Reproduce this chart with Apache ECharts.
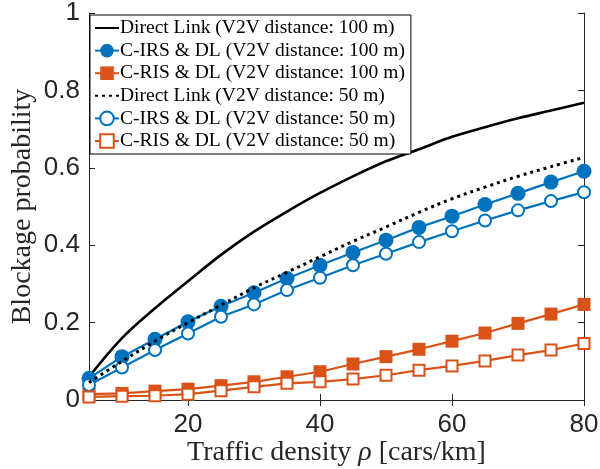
<!DOCTYPE html>
<html>
<head>
<meta charset="utf-8">
<script src="https://cdn.jsdelivr.net/npm/echarts@6/dist/echarts.min.js"></script>
<style>
  html, body { margin: 0; padding: 0; background: #fff; }
  #main { width: 600px; height: 469px; }
</style>
</head>
<body>
<div id="main"></div>
<script>
// traffic density (cars/km)
const densities = [5, 10, 15, 20, 25, 30, 35, 40, 45, 50, 55, 60, 65, 70, 75, 80];
const xTicks = [20, 40, 60, 80];

// blockage probability, V2V distance 100 m
const directLink100 = [0.06, 0.16, 0.237, 0.307, 0.375, 0.435, 0.487, 0.535, 0.578, 0.617, 0.648, 0.68, 0.705, 0.728, 0.748, 0.768];
const cirs100 = [0.056, 0.112, 0.157, 0.202, 0.242, 0.277, 0.314, 0.348, 0.381, 0.413, 0.446, 0.475, 0.505, 0.534, 0.563, 0.591];
const cris100 = [0.015, 0.017, 0.023, 0.028, 0.037, 0.047, 0.06, 0.073, 0.093, 0.112, 0.131, 0.152, 0.173, 0.198, 0.222, 0.247];

// blockage probability, V2V distance 50 m
const directLink50 = [0.045, 0.1, 0.152, 0.2, 0.245, 0.29, 0.33, 0.37, 0.41, 0.447, 0.485, 0.52, 0.55, 0.578, 0.603, 0.627];
const cirs50 = [0.039, 0.084, 0.129, 0.172, 0.215, 0.247, 0.284, 0.316, 0.348, 0.378, 0.408, 0.436, 0.464, 0.49, 0.514, 0.537];
const cris50 = [0.008, 0.01, 0.011, 0.015, 0.024, 0.034, 0.043, 0.047, 0.054, 0.064, 0.077, 0.088, 0.101, 0.116, 0.129, 0.146];

const BLUE = '#0072BD';
const ORANGE = '#D95319';
const AXIS_COLOR = '#262626';
const SERIF = '"Liberation Serif", "DejaVu Serif", serif';
const SANS = '"Liberation Sans", Arial, sans-serif';

const pairs = ys => densities.map((x, i) => [x, ys[i]]);

const chart = echarts.init(document.getElementById('main'), null, { renderer: 'canvas' });

const axisLine = { show: true, lineStyle: { color: AXIS_COLOR, width: 1 } };
const tick = { show: true, inside: true, length: 6, lineStyle: { color: AXIS_COLOR } };

// legend entries; the two direct-link rows show only their line
const legendNames = [
  'Direct Link (V2V distance: 100 m)',
  'C-IRS & DL (V2V distance: 100 m)',
  'C-RIS & DL (V2V distance: 100 m)',
  'Direct Link (V2V distance: 50 m)',
  'C-IRS & DL (V2V distance: 50 m)',
  'C-RIS & DL (V2V distance: 50 m)'
];

const option = {
  animation: false,
  backgroundColor: '#fff',
  grid: { left: 89, right: 16, top: 13, bottom: 69, containLabel: false, outerBoundsMode: 'none' },
  legend: {
    orient: 'vertical',
    left: 90,
    top: 15,
    backgroundColor: '#fff',
    borderColor: '#000',
    borderWidth: 1,
    borderRadius: 0,
    padding: [3, 6, 3, 4],
    itemWidth: 24,
    itemHeight: 17,
    itemGap: 2.6,
    textStyle: { fontFamily: SERIF, fontSize: 19.5, color: '#000', lineHeight: 20, padding: [0, 0, 0, -4] },
    data: legendNames.map(n => n.startsWith('Direct')
      ? { name: n, itemStyle: { opacity: 0 } }
      : { name: n })
  },
  xAxis: [
    {
      type: 'value', min: 5, max: 80, position: 'bottom',
      axisLine: axisLine,
      axisTick: Object.assign({}, tick, { customValues: xTicks }),
      axisLabel: { customValues: xTicks, fontFamily: SANS, fontSize: 26, color: AXIS_COLOR, margin: 12 },
      splitLine: { show: false },
      name: '{a|Traffic density }{i|ρ}{a| [cars/km]}',
      nameLocation: 'middle',
      nameGap: 39,
      nameMoveOverlap: false,
      nameTextStyle: {
        rich: {
          a: { fontFamily: SERIF, fontSize: 28, color: AXIS_COLOR },
          i: { fontFamily: SERIF, fontSize: 28, fontStyle: 'italic', color: AXIS_COLOR }
        }
      }
    },
    {
      type: 'value', min: 5, max: 80, position: 'top',
      axisLine: axisLine,
      axisTick: Object.assign({}, tick, { customValues: xTicks }),
      axisLabel: { show: false },
      splitLine: { show: false }
    }
  ],
  yAxis: [
    {
      type: 'value', min: 0, max: 1, interval: 0.2, position: 'left',
      axisLine: axisLine,
      axisTick: tick,
      axisLabel: {
        fontFamily: SANS, fontSize: 26, color: AXIS_COLOR, margin: 9,
        formatter: v => (Math.round(v * 10) / 10).toString()
      },
      splitLine: { show: false },
      name: 'Blockage probability',
      nameLocation: 'middle',
      nameGap: 52,
      nameMoveOverlap: false,
      nameTextStyle: { fontFamily: SERIF, fontSize: 28, color: AXIS_COLOR }
    },
    {
      type: 'value', min: 0, max: 1, interval: 0.2, position: 'right',
      axisLine: axisLine,
      axisTick: tick,
      axisLabel: { show: false },
      splitLine: { show: false }
    }
  ],
  series: [
    {
      name: legendNames[0], type: 'line', smooth: 0.35,
      data: pairs(directLink100), symbol: 'none',
      lineStyle: { color: '#000', width: 2.6 }, itemStyle: { color: '#000' }, z: 3
    },
    {
      name: legendNames[1], type: 'line',
      data: pairs(cirs100), symbol: 'circle', symbolSize: 15,
      lineStyle: { color: BLUE, width: 2.2 }, itemStyle: { color: BLUE }, z: 4
    },
    {
      name: legendNames[2], type: 'line',
      data: pairs(cris100), symbol: 'rect', symbolSize: 13,
      lineStyle: { color: ORANGE, width: 2.2 }, itemStyle: { color: ORANGE }, z: 4
    },
    {
      name: legendNames[3], type: 'line', smooth: 0.35,
      data: pairs(directLink50), symbol: 'none',
      lineStyle: { color: '#000', width: 3, type: [3, 4] }, itemStyle: { color: '#000' }, z: 5
    },
    {
      name: legendNames[4], type: 'line',
      data: pairs(cirs50), symbol: 'emptyCircle', symbolSize: 12,
      lineStyle: { color: BLUE, width: 2.2 }, itemStyle: { color: BLUE, borderWidth: 2.2 }, z: 4
    },
    {
      name: legendNames[5], type: 'line',
      data: pairs(cris50), symbol: 'emptyRect', symbolSize: 11,
      lineStyle: { color: ORANGE, width: 2.2 }, itemStyle: { color: ORANGE, borderWidth: 2.2 }, z: 4
    }
  ]
};

chart.setOption(option);
</script>
</body>
</html>
